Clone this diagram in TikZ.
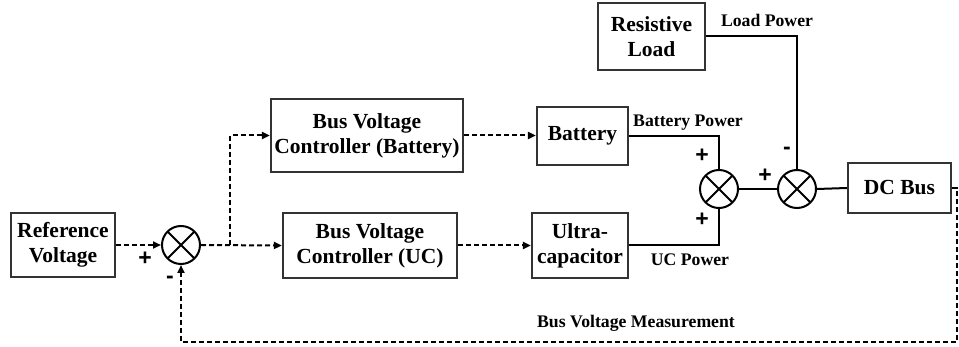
\documentclass[tikz,border=0pt]{standalone}
\usepackage{fontspec}
\setmainfont{Liberation Serif}
\setsansfont{Liberation Sans}
\usepackage{tikz}
\usetikzlibrary{arrows.meta, positioning, calc}

\begin{document}
\begin{tikzpicture}[
    x=1pt, y=-1pt,
    block/.style={rectangle, draw=black!80, line width=2.2pt, fill=white,
                  minimum width=#1, align=center, inner sep=0pt,
                  font=\fontsize{21.5}{25}\selectfont\bfseries},
    block/.default={100pt},
    sumnode/.style={circle, draw=black, line width=2pt, minimum size=38pt, inner sep=0pt,
                    path picture={\draw[line width=2pt] (path picture bounding box.north west) -- (path picture bounding box.south east)
                                  (path picture bounding box.north east) -- (path picture bounding box.south west);}},
    sig/.style={-{Triangle[length=8pt,width=7pt]}, line width=2pt, dash pattern=on 5pt off 3pt},
    pow/.style={line width=2pt},
    lbl/.style={font=\fontsize{17.7}{20}\selectfont\bfseries, inner sep=0pt},
    sgn/.style={font=\fontsize{23}{26}\selectfont\sffamily\bfseries, inner sep=0pt}
]
\useasboundingbox (0,0) rectangle (959,347);

% --- Blocks ---
\node[block=104pt, minimum height=64pt] (ref) at (63,245) {Reference\\Voltage};
\node[sumnode] (sum1) at (181,245) {};
\node[block=192pt, minimum height=73pt] (bvcbat) at (367,135.5) {Bus Voltage\\Controller (Battery)};
\node[block=174pt, minimum height=65pt] (bvcuc) at (370,245.5) {Bus Voltage\\Controller (UC)};
\node[block=91pt, minimum height=58pt] (bat) at (582.5,136) {Battery};
\node[block=96pt, minimum height=65pt] (uc) at (580,245.5) {Ultra-\\capacitor};
\node[block=107pt, minimum height=67pt] (load) at (651.5,36.5) {Resistive\\Load};
\node[sumnode] (sum2) at (719,189) {};
\node[sumnode] (sum3) at (797,189) {};
\node[block=103pt, minimum height=50pt] (dcbus) at (899.5,188) {DC Bus};

% --- Corners ---
\coordinate (br) at (230,245);
\coordinate (fbr) at (957,188);
\coordinate (fbb) at (957,342);

% --- Signal paths ---
\draw[sig] (ref.east) -- (sum1.west);
\draw[sig] (sum1.east) -- (bvcuc.west);
\draw[sig] (br) |- (bvcbat.west);
\draw[sig] (bvcbat.east) -- (bvcbat.east -| bat.west);
\draw[sig] (bvcuc.east) -- (bvcuc.east -| uc.west);
\draw[sig] (dcbus.east) -- (fbr) -- (fbb) -| (sum1.south);

% --- Power paths ---
\draw[pow] (bat.east) -| (sum2.north);
\draw[pow] (uc.east) -| (sum2.south);
\draw[pow] (sum2.east) -- (sum3.west);
\draw[pow] (load.east) -| (sum3.north);
\draw[pow] (sum3.east) -- (dcbus.west);

% --- Labels ---
\node[lbl] (lp) at (767,20) {Load Power};
\node[lbl] (bp) at (688,123) {Battery Power};
\node[lbl] (up) at (690,260) {UC Power};
\node[lbl] (bvm) at (636,323) {Bus Voltage Measurement};

% --- Signs ---
\node[sgn] (p1) at (145,259) {+};
\node[sgn] (m1) at (170,280) {-};
\node[sgn] (p2) at (702,156) {+};
\node[sgn] (p3) at (702,220) {+};
\node[sgn] (p4) at (765,176) {+};
\node[sgn] (m3) at (787,151) {-};

\end{tikzpicture}
\end{document}
